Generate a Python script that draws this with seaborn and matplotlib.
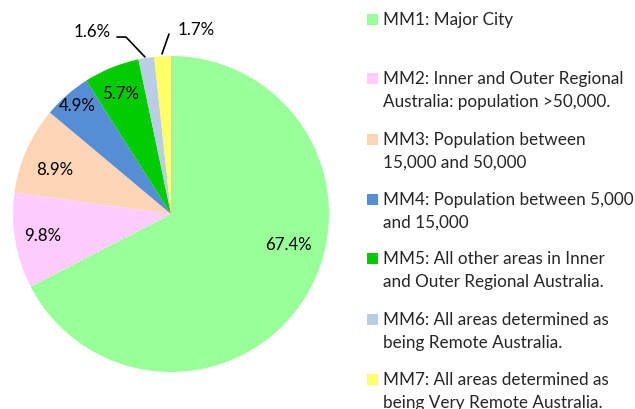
import matplotlib
matplotlib.use("Agg")
import matplotlib.pyplot as plt
import seaborn as sns
from matplotlib.patches import Rectangle

# data
categories = ["MM1", "MM2", "MM3", "MM4", "MM5", "MM6", "MM7"]
shares = [67.4, 9.8, 8.9, 4.9, 5.7, 1.6, 1.7]
legend_labels = [
    "MM1: Major City",
    "MM2: Inner and Outer Regional\nAustralia: population >50,000.",
    "MM3: Population between\n15,000 and 50,000",
    "MM4: Population between 5,000\nand 15,000",
    "MM5: All other areas in Inner\nand Outer Regional Australia.",
    "MM6: All areas determined as\nbeing Remote Australia.",
    "MM7: All areas determined as\nbeing Very Remote Australia.",
]
colors = ["#99FF99", "#FFCCFF", "#FCD5B5", "#558ED5", "#00CC00", "#B9CDE5", "#FFFF66"]

sns.set_theme(style="white")
plt.rcParams["font.family"] = ["Lato", "DejaVu Sans"]

W, H = 635, 410
fig = plt.figure(figsize=(W / 100, H / 100), dpi=100)

# pie placed so centre is at (171, 215) px with radius 158 px
cx, cy, r = 171, 215, 158
ax_w = 340
ax = fig.add_axes([0, 0, ax_w / W, 1])
pal = sns.color_palette(colors)
wedges, texts, autotexts = ax.pie(
    shares, colors=pal, startangle=90, counterclock=False,
    autopct="%1.1f%%", pctdistance=0.7,
    textprops=dict(fontsize=12.2, color="black"),
    wedgeprops=dict(linewidth=0),
)
ax.set_aspect("equal")
ax.set_xlim(-cx / r, (ax_w - cx) / r)
ax.set_ylim(-(H - cy) / r, cy / r)

# label spots as Excel laid them out
label_pos = [(0.741, -0.190), (-0.810, -0.133), (-0.734, 0.285), (-0.595, 0.690),
             (-0.316, 0.766), (-0.500, 1.158), (0.158, 1.171)]
for t, (x, y) in zip(autotexts, label_pos):
    t.set_position((x, y))
    t.set_ha("center")
    t.set_va("center")

# leader lines for the two small slices
ax.plot([-0.342, -0.285, -0.165], [1.120, 1.120, 0.994], color="black", lw=1.2, clip_on=False)
ax.plot([-0.057, -0.013], [1.013, 1.139], color="black", lw=1.2, clip_on=False)

# legend drawn by hand so the swatch sits on the first line
first_y = [20, 79, 140, 200, 259, 320, 380]
for lab, col, y0 in zip(legend_labels, colors, first_y):
    fig.patches.append(Rectangle((367 / W, 1 - (y0 + 5.5) / H), 11 / W, 11 / H,
                                 transform=fig.transFigure, facecolor=col, edgecolor="none"))
    for j, line in enumerate(lab.split("\n")):
        fig.text(383 / W, 1 - (y0 + j * 23) / H, line, fontsize=12.3, va="center", ha="left")

fig.savefig("out.png", dpi=100)
